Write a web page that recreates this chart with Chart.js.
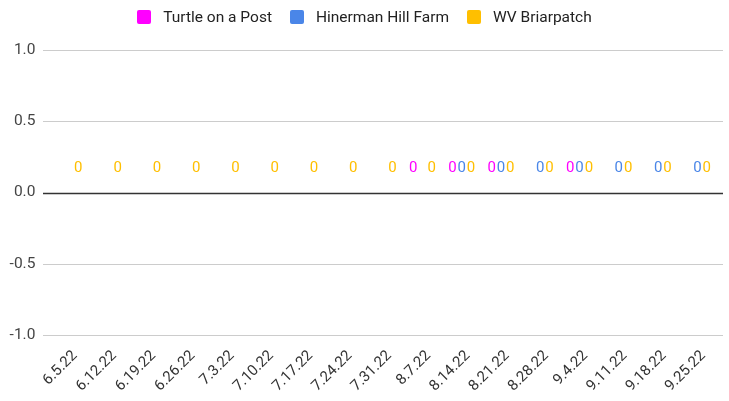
<!DOCTYPE html>
<html>
<head>
<meta charset="utf-8">
<script src="https://cdn.jsdelivr.net/npm/chart.js@4.4.1/dist/chart.umd.min.js"></script>
<style>
  html, body { margin: 0; padding: 0; background: #ffffff; }
  #wrap { position: relative; width: 729px; height: 401px; }
  #legend { position: absolute; left: 0; top: 8px; width: 729px; display: flex; justify-content: center; align-items: center;
            font-family: Roboto, Arial, sans-serif; font-size: 15.5px; color: #222222; height: 18px; }
  .item { display: flex; align-items: center; margin: 0 9px; }
  .box { width: 14px; height: 14px; border-radius: 2px; margin-right: 12px; }
  canvas { position: absolute; left: 0; top: 0; }
</style>
</head>
<body>
<div id="wrap">
  <canvas id="c" width="729" height="401"></canvas>
  <div id="legend"></div>
</div>
<script>
const categories = ['6.5.22','6.12.22','6.19.22','6.26.22','7.3.22','7.10.22','7.17.22','7.24.22','7.31.22','8.7.22','8.14.22','8.21.22','8.28.22','9.4.22','9.11.22','9.18.22','9.25.22'];
const seriesNames = ['Turtle on a Post', 'Hinerman Hill Farm', 'WV Briarpatch'];
const turtleOnAPost = [null,null,null,null,null,null,null,null,null,0,0,0,null,0,null,null,null];
const hinermanHillFarm = [null,null,null,null,null,null,null,null,null,null,0,0,0,0,0,0,0];
const wvBriarpatch = [0,0,0,0,0,0,0,0,0,0,0,0,0,0,0,0,0];
const yTicks = [-1.0, -0.5, 0.0, 0.5, 1.0];
const colors = ['#ff00ff', '#4a86e8', '#ffbf00'];

// HTML legend
const legendEl = document.getElementById('legend');
seriesNames.forEach((n, i) => {
  const it = document.createElement('div'); it.className = 'item';
  const b = document.createElement('div'); b.className = 'box'; b.style.background = colors[i];
  const t = document.createElement('span'); t.textContent = n;
  it.appendChild(b); it.appendChild(t); legendEl.appendChild(it);
});

const gridPlugin = {
  id: 'gridPlugin',
  beforeDatasetsDraw(chart) {
    const ctx = chart.ctx, y = chart.scales.y;
    ctx.save();
    yTicks.forEach(v => {
      const py = Math.round(y.getPixelForValue(v)) + 0.5;
      ctx.beginPath();
      ctx.strokeStyle = v === 0 ? '#333333' : '#cccccc';
      ctx.lineWidth = v === 0 ? 1.3 : 1;
      ctx.moveTo(43, py); ctx.lineTo(723, py); ctx.stroke();
    });
    ctx.restore();
  }
};

const labelPlugin = {
  id: 'labelPlugin',
  afterDatasetsDraw(chart) {
    const ctx = chart.ctx, y = chart.scales.y;
    ctx.save();
    ctx.font = '15px Roboto, Arial, sans-serif';
    ctx.textAlign = 'center';
    ctx.textBaseline = 'middle';
    chart.data.datasets.forEach((ds, i) => {
      const meta = chart.getDatasetMeta(i);
      meta.data.forEach((el, j) => {
        const v = ds.data[j];
        if (v === null || v === undefined) return;
        ctx.fillStyle = colors[i];
        ctx.fillText(String(v), el.x, y.getPixelForValue(v) - 24);
      });
    });
    ctx.restore();
  }
};

new Chart(document.getElementById('c'), {
  type: 'bar',
  data: {
    labels: categories,
    datasets: [
      { label: seriesNames[0], data: turtleOnAPost, backgroundColor: colors[0], borderWidth: 0 },
      { label: seriesNames[1], data: hinermanHillFarm, backgroundColor: colors[1], borderWidth: 0 },
      { label: seriesNames[2], data: wvBriarpatch, backgroundColor: colors[2], borderWidth: 0 }
    ]
  },
  options: {
    responsive: false,
    animation: false,
    devicePixelRatio: 1,
    categoryPercentage: 0.71,
    barPercentage: 0.9,
    layout: { padding: { top: 50, right: 12, left: 0, bottom: 0 } },
    plugins: { legend: { display: false }, tooltip: { enabled: false } },
    scales: {
      x: {
        grid: { display: false, drawTicks: false },
        border: { display: false },
        ticks: {
          autoSkip: false, minRotation: 45, maxRotation: 45, padding: 12, labelOffset: 6,
          color: '#333333', font: { family: 'Roboto, Arial, sans-serif', size: 15 }
        },
        afterFit(s) { s.height = 66; }
      },
      y: {
        min: -1, max: 1,
        grid: { display: false, drawTicks: false },
        border: { display: false },
        ticks: {
          stepSize: 0.5, padding: 14, color: '#444444',
          font: { family: 'Roboto, Arial, sans-serif', size: 15.5 },
          callback: v => Number(v).toFixed(1)
        },
        afterFit(s) { s.width = 49.4; }
      }
    }
  },
  plugins: [gridPlugin, labelPlugin]
});
</script>
</body>
</html>
